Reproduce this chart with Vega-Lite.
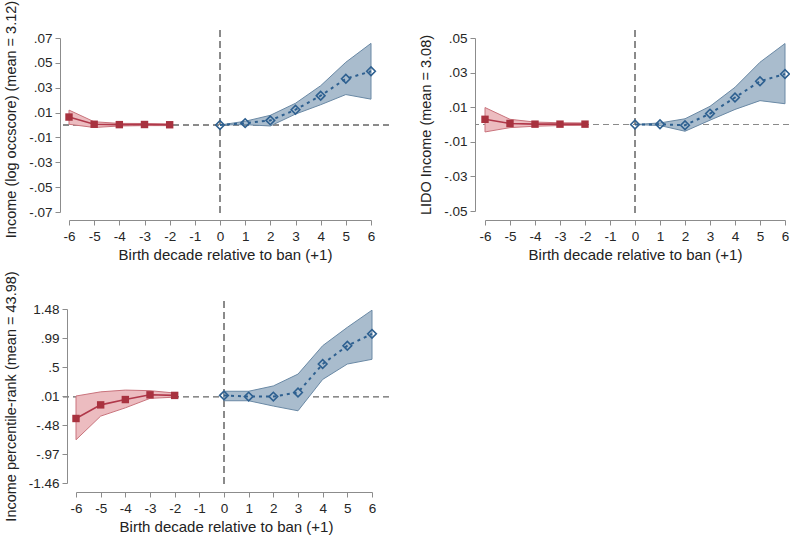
{
  "$schema": "https://vega.github.io/schema/vega-lite/v6.json",
  "padding": {"left": 3, "top": 0, "right": 0, "bottom": 0},
  "background": "white",
  "config": {
    "font": "Liberation Sans",
    "view": {"stroke": null},
    "axis": {
      "domainColor": "#8c8c8c", "domainWidth": 1, "tickColor": "#8c8c8c", "tickSize": 5,
      "labelFontSize": 13.5, "labelColor": "#262626", "labelPadding": 3, "labelOverlap": false, "labelFlush": false, "labelBound": false,
      "titleFontSize": 15, "titleFontWeight": "normal", "titleColor": "#222222",
      "gridColor": "#d4d4d4", "gridDash": [1, 3], "gridWidth": 1
    },
    "axisX": {"offset": 7, "titlePadding": 5, "labelPadding": 4, "labelExpr": "'' + datum.value"},
    "axisY": {"titlePadding": 10, "titleFontSize": 14.5, "labelExpr": "replace('' + datum.value, '0.', '.')"}
  },
  "datasets": {
    "p1": [
      {"x": -6, "grp": "pre", "est": 0.0064, "lo": 0.0006, "hi": 0.0120},
      {"x": -5, "grp": "pre", "est": 0.0006, "lo": -0.0020, "hi": 0.0026},
      {"x": -4, "grp": "pre", "est": 0.0003, "lo": -0.0008, "hi": 0.0013},
      {"x": -3, "grp": "pre", "est": 0.0004, "lo": -0.0005, "hi": 0.0012},
      {"x": -2, "grp": "pre", "est": 0.0002, "lo": -0.0005, "hi": 0.0009},
      {"x": 0, "grp": "post", "est": 0.0, "lo": 0.0, "hi": 0.0},
      {"x": 1, "grp": "post", "est": 0.0015, "lo": 0.0003, "hi": 0.0030},
      {"x": 2, "grp": "post", "est": 0.0037, "lo": -0.0008, "hi": 0.0078},
      {"x": 3, "grp": "post", "est": 0.0123, "lo": 0.0088, "hi": 0.0175},
      {"x": 4, "grp": "post", "est": 0.0236, "lo": 0.0163, "hi": 0.0316},
      {"x": 5, "grp": "post", "est": 0.0372, "lo": 0.0245, "hi": 0.0505},
      {"x": 6, "grp": "post", "est": 0.0432, "lo": 0.0208, "hi": 0.0657}
    ],
    "p2": [
      {"x": -6, "grp": "pre", "est": 0.0030, "lo": -0.0043, "hi": 0.0098},
      {"x": -5, "grp": "pre", "est": 0.0006, "lo": -0.0018, "hi": 0.0030},
      {"x": -4, "grp": "pre", "est": 0.0002, "lo": -0.0010, "hi": 0.0014},
      {"x": -3, "grp": "pre", "est": 0.0002, "lo": -0.0006, "hi": 0.0010},
      {"x": -2, "grp": "pre", "est": 0.0002, "lo": -0.0005, "hi": 0.0009},
      {"x": 0, "grp": "post", "est": 0.0, "lo": 0.0, "hi": 0.0},
      {"x": 1, "grp": "post", "est": 0.0001, "lo": -0.0006, "hi": 0.0009},
      {"x": 2, "grp": "post", "est": -0.0004, "lo": -0.0039, "hi": 0.0033},
      {"x": 3, "grp": "post", "est": 0.0063, "lo": 0.0025, "hi": 0.0105},
      {"x": 4, "grp": "post", "est": 0.0156, "lo": 0.0087, "hi": 0.0215},
      {"x": 5, "grp": "post", "est": 0.0250, "lo": 0.0138, "hi": 0.0360},
      {"x": 6, "grp": "post", "est": 0.0292, "lo": 0.0120, "hi": 0.0468}
    ],
    "p3": [
      {"x": -6, "grp": "pre", "est": -0.37, "lo": -0.73, "hi": 0.01},
      {"x": -5, "grp": "pre", "est": -0.14, "lo": -0.33, "hi": 0.08},
      {"x": -4, "grp": "pre", "est": -0.05, "lo": -0.19, "hi": 0.11},
      {"x": -3, "grp": "pre", "est": 0.03, "lo": -0.03, "hi": 0.10},
      {"x": -2, "grp": "pre", "est": 0.02, "lo": -0.01, "hi": 0.06},
      {"x": 0, "grp": "post", "est": 0.02, "lo": -0.07, "hi": 0.09},
      {"x": 1, "grp": "post", "est": 0.0, "lo": -0.07, "hi": 0.09},
      {"x": 2, "grp": "post", "est": 0.0, "lo": -0.16, "hi": 0.18},
      {"x": 3, "grp": "post", "est": 0.07, "lo": -0.24, "hi": 0.38},
      {"x": 4, "grp": "post", "est": 0.55, "lo": 0.29, "hi": 0.86},
      {"x": 5, "grp": "post", "est": 0.86, "lo": 0.55, "hi": 1.17},
      {"x": 6, "grp": "post", "est": 1.06, "lo": 0.63, "hi": 1.46}
    ]
  },
  "columns": 2,
  "bounds": "flush",
  "spacing": {"column": 86, "row": 88},
  "concat": [
    {
      "width": 329, "height": 183,
      "data": {"name": "p1"},
      "layer": [
        {"mark": {"type": "rule", "color": "#8a8a8a", "strokeDash": [7, 4], "strokeWidth": 1}, "encoding": {"x": {"datum": 0, "type": "quantitative"}}},
        {"mark": {"type": "rule", "color": "#8a8a8a", "strokeDash": [6, 4], "strokeWidth": 1}, "encoding": {"y": {"datum": 0, "type": "quantitative"}}},
        {
          "transform": [{"filter": "datum.grp == 'pre'"}],
          "mark": {"type": "area", "fill": "#ecbcc0", "stroke": "#c9737c", "strokeWidth": 1, "opacity": 1},
          "encoding": {
            "x": {"field": "x", "type": "quantitative", "title": "Birth decade relative to ban (+1)",
                  "scale": {"domain": [-6, 6], "range": [9, 311], "nice": false, "zero": false},
                  "axis": {"values": [-6,-5,-4,-3,-2,-1,0,1,2,3,4,5,6], "tickCount": 50, "titleX": 165, "labelOverlap": false}},
            "y": {"field": "lo", "type": "quantitative", "title": "Income (log occscore) (mean = 3.12)",
                  "scale": {"domain": [-0.07, 0.07], "range": [182, 8], "nice": false, "zero": false},
                  "axis": {"values": [-0.07,-0.05,-0.03,-0.01,0.01,0.03,0.05,0.07], "tickCount": 50, "titleY": 89, "labelOverlap": false}},
            "y2": {"field": "hi"}
          }
        },
        {
          "transform": [{"filter": "datum.grp == 'post'"}],
          "mark": {"type": "area", "fill": "#a9bccd", "stroke": "#6a89a5", "strokeWidth": 1, "opacity": 1},
          "encoding": {
            "x": {"field": "x", "type": "quantitative", "title": "Birth decade relative to ban (+1)"},
            "y": {"field": "lo", "type": "quantitative", "title": "Income (log occscore) (mean = 3.12)"},
            "y2": {"field": "hi"}
          }
        },
        {
          "transform": [{"filter": "datum.grp == 'pre'"}],
          "mark": {"type": "line", "color": "#b0384a", "strokeWidth": 1.6},
          "encoding": {
            "x": {"field": "x", "type": "quantitative", "title": "Birth decade relative to ban (+1)"},
            "y": {"field": "est", "type": "quantitative", "title": "Income (log occscore) (mean = 3.12)"}
          }
        },
        {
          "transform": [{"filter": "datum.grp == 'post'"}],
          "mark": {"type": "line", "color": "#2e6090", "strokeWidth": 2, "strokeDash": [3, 4]},
          "encoding": {
            "x": {"field": "x", "type": "quantitative", "title": "Birth decade relative to ban (+1)"},
            "y": {"field": "est", "type": "quantitative", "title": "Income (log occscore) (mean = 3.12)"}
          }
        },
        {
          "transform": [{"filter": "datum.grp == 'pre'"}],
          "mark": {"type": "point", "shape": "square", "filled": true, "color": "#a8323f", "size": 55, "opacity": 1},
          "encoding": {
            "x": {"field": "x", "type": "quantitative", "title": "Birth decade relative to ban (+1)"},
            "y": {"field": "est", "type": "quantitative", "title": "Income (log occscore) (mean = 3.12)"}
          }
        },
        {
          "transform": [{"filter": "datum.grp == 'post'"}],
          "mark": {"type": "point", "shape": "diamond", "filled": false, "color": "#2e6090", "size": 75, "strokeWidth": 1.6, "opacity": 1},
          "encoding": {
            "x": {"field": "x", "type": "quantitative", "title": "Birth decade relative to ban (+1)"},
            "y": {"field": "est", "type": "quantitative", "title": "Income (log occscore) (mean = 3.12)"}
          }
        }
      ]
    },
    {
      "width": 314, "height": 183,
      "data": {"name": "p2"},
      "layer": [
        {"mark": {"type": "rule", "color": "#8a8a8a", "strokeDash": [7, 4], "strokeWidth": 1}, "encoding": {"x": {"datum": 0, "type": "quantitative"}}},
        {"mark": {"type": "rule", "color": "#8a8a8a", "strokeDash": [6, 4], "strokeWidth": 1}, "encoding": {"y": {"datum": 0, "type": "quantitative"}}},
        {
          "transform": [{"filter": "datum.grp == 'pre'"}],
          "mark": {"type": "area", "fill": "#ecbcc0", "stroke": "#c9737c", "strokeWidth": 1, "opacity": 1},
          "encoding": {
            "x": {"field": "x", "type": "quantitative", "title": "Birth decade relative to ban (+1)",
                  "scale": {"domain": [-6, 6], "range": [10, 310], "nice": false, "zero": false},
                  "axis": {"values": [-6,-5,-4,-3,-2,-1,0,1,2,3,4,5,6], "tickCount": 50, "labelOverlap": false}},
            "y": {"field": "lo", "type": "quantitative", "title": "LIDO Income (mean = 3.08)",
                  "scale": {"domain": [-0.05, 0.05], "range": [181, 8], "nice": false, "zero": false},
                  "axis": {"values": [-0.05,-0.03,-0.01,0.01,0.03,0.05], "tickCount": 50, "labelOverlap": false}},
            "y2": {"field": "hi"}
          }
        },
        {
          "transform": [{"filter": "datum.grp == 'post'"}],
          "mark": {"type": "area", "fill": "#a9bccd", "stroke": "#6a89a5", "strokeWidth": 1, "opacity": 1},
          "encoding": {
            "x": {"field": "x", "type": "quantitative", "title": "Birth decade relative to ban (+1)"},
            "y": {"field": "lo", "type": "quantitative", "title": "LIDO Income (mean = 3.08)"},
            "y2": {"field": "hi"}
          }
        },
        {
          "transform": [{"filter": "datum.grp == 'pre'"}],
          "mark": {"type": "line", "color": "#b0384a", "strokeWidth": 1.6},
          "encoding": {
            "x": {"field": "x", "type": "quantitative", "title": "Birth decade relative to ban (+1)"},
            "y": {"field": "est", "type": "quantitative", "title": "LIDO Income (mean = 3.08)"}
          }
        },
        {
          "transform": [{"filter": "datum.grp == 'post'"}],
          "mark": {"type": "line", "color": "#2e6090", "strokeWidth": 2, "strokeDash": [3, 4]},
          "encoding": {
            "x": {"field": "x", "type": "quantitative", "title": "Birth decade relative to ban (+1)"},
            "y": {"field": "est", "type": "quantitative", "title": "LIDO Income (mean = 3.08)"}
          }
        },
        {
          "transform": [{"filter": "datum.grp == 'pre'"}],
          "mark": {"type": "point", "shape": "square", "filled": true, "color": "#a8323f", "size": 55, "opacity": 1},
          "encoding": {
            "x": {"field": "x", "type": "quantitative", "title": "Birth decade relative to ban (+1)"},
            "y": {"field": "est", "type": "quantitative", "title": "LIDO Income (mean = 3.08)"}
          }
        },
        {
          "transform": [{"filter": "datum.grp == 'post'"}],
          "mark": {"type": "point", "shape": "diamond", "filled": false, "color": "#2e6090", "size": 75, "strokeWidth": 1.6, "opacity": 1},
          "encoding": {
            "x": {"field": "x", "type": "quantitative", "title": "Birth decade relative to ban (+1)"},
            "y": {"field": "est", "type": "quantitative", "title": "LIDO Income (mean = 3.08)"}
          }
        }
      ]
    },
    {
      "width": 329, "height": 183,
      "data": {"name": "p3"},
      "layer": [
        {"mark": {"type": "rule", "color": "#8a8a8a", "strokeDash": [7, 4], "strokeWidth": 1}, "encoding": {"x": {"datum": 0, "type": "quantitative"}}},
        {"mark": {"type": "rule", "color": "#8a8a8a", "strokeDash": [6, 4], "strokeWidth": 1}, "encoding": {"y": {"datum": 0, "type": "quantitative"}}},
        {
          "transform": [{"filter": "datum.grp == 'pre'"}],
          "mark": {"type": "area", "fill": "#ecbcc0", "stroke": "#c9737c", "strokeWidth": 1, "opacity": 1},
          "encoding": {
            "x": {"field": "x", "type": "quantitative", "title": "Birth decade relative to ban (+1)",
                  "scale": {"domain": [-6, 6], "range": [16, 312], "nice": false, "zero": false},
                  "axis": {"values": [-6,-5,-4,-3,-2,-1,0,1,2,3,4,5,6], "tickCount": 50, "offset": 8, "titleX": 166, "labelOverlap": false}},
            "y": {"field": "lo", "type": "quantitative", "title": "Income percentile-rank (mean = 43.98)",
                  "scale": {"domain": [-1.46, 1.48], "range": [182, 8], "nice": false, "zero": false},
                  "axis": {"values": [-1.46,-0.97,-0.48,0.01,0.5,0.99,1.48], "tickCount": 50, "offset": -7, "labelOverlap": false}},
            "y2": {"field": "hi"}
          }
        },
        {
          "transform": [{"filter": "datum.grp == 'post'"}],
          "mark": {"type": "area", "fill": "#a9bccd", "stroke": "#6a89a5", "strokeWidth": 1, "opacity": 1},
          "encoding": {
            "x": {"field": "x", "type": "quantitative", "title": "Birth decade relative to ban (+1)"},
            "y": {"field": "lo", "type": "quantitative", "title": "Income percentile-rank (mean = 43.98)"},
            "y2": {"field": "hi"}
          }
        },
        {
          "transform": [{"filter": "datum.grp == 'pre'"}],
          "mark": {"type": "line", "color": "#b0384a", "strokeWidth": 1.6},
          "encoding": {
            "x": {"field": "x", "type": "quantitative", "title": "Birth decade relative to ban (+1)"},
            "y": {"field": "est", "type": "quantitative", "title": "Income percentile-rank (mean = 43.98)"}
          }
        },
        {
          "transform": [{"filter": "datum.grp == 'post'"}],
          "mark": {"type": "line", "color": "#2e6090", "strokeWidth": 2, "strokeDash": [3, 4]},
          "encoding": {
            "x": {"field": "x", "type": "quantitative", "title": "Birth decade relative to ban (+1)"},
            "y": {"field": "est", "type": "quantitative", "title": "Income percentile-rank (mean = 43.98)"}
          }
        },
        {
          "transform": [{"filter": "datum.grp == 'pre'"}],
          "mark": {"type": "point", "shape": "square", "filled": true, "color": "#a8323f", "size": 55, "opacity": 1},
          "encoding": {
            "x": {"field": "x", "type": "quantitative", "title": "Birth decade relative to ban (+1)"},
            "y": {"field": "est", "type": "quantitative", "title": "Income percentile-rank (mean = 43.98)"}
          }
        },
        {
          "transform": [{"filter": "datum.grp == 'post'"}],
          "mark": {"type": "point", "shape": "diamond", "filled": false, "color": "#2e6090", "size": 75, "strokeWidth": 1.6, "opacity": 1},
          "encoding": {
            "x": {"field": "x", "type": "quantitative", "title": "Birth decade relative to ban (+1)"},
            "y": {"field": "est", "type": "quantitative", "title": "Income percentile-rank (mean = 43.98)"}
          }
        }
      ]
    }
  ]
}
